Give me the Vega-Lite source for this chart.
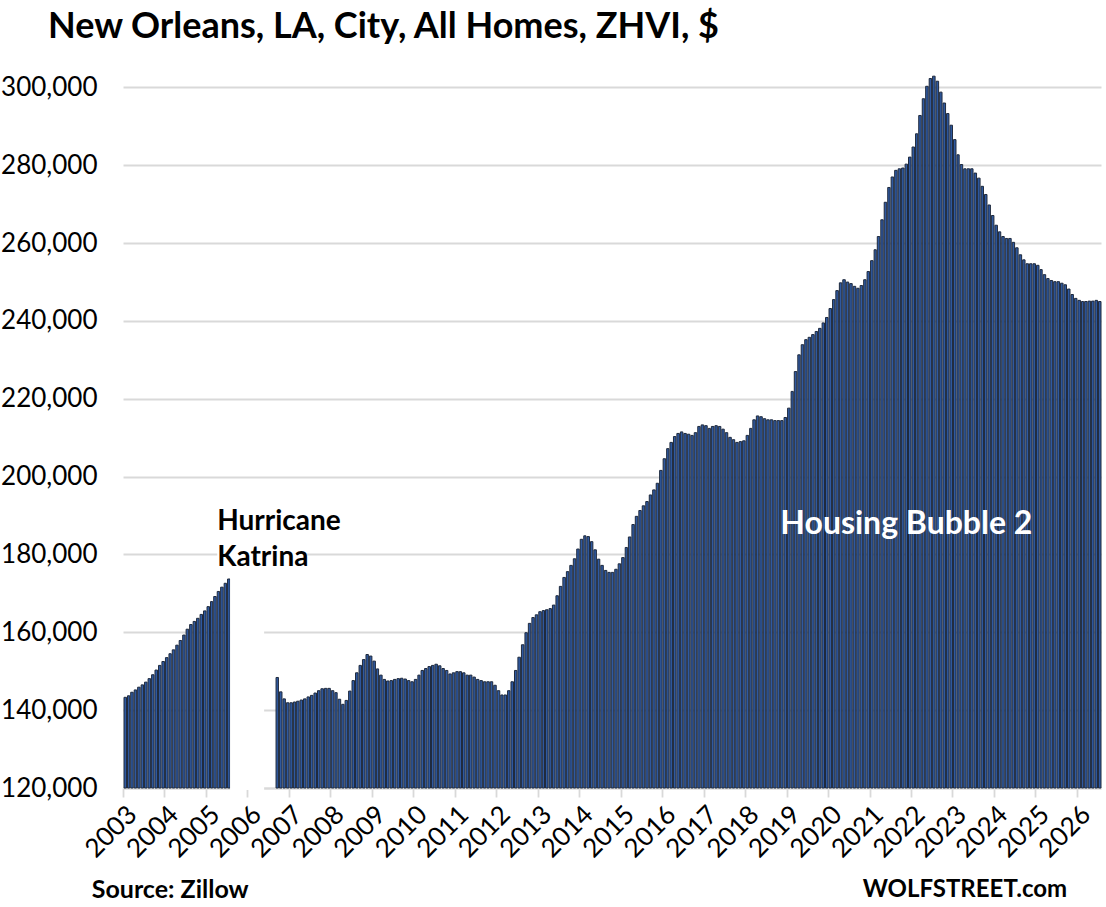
{
  "$schema": "https://vega.github.io/schema/vega-lite/v6.json",
  "autosize": {"type": "none"},
  "width": 978,
  "height": 720,
  "padding": {"left": 123, "top": 68, "right": 5, "bottom": 119},
  "title": {
    "text": "New Orleans, LA, City, All Homes, ZHVI, $",
    "anchor": "start",
    "frame": "group",
    "baseline": "alphabetic",
    "dx": -75,
    "offset": -6,
    "font": "Lato",
    "fontSize": 36,
    "fontWeight": "bold",
    "color": "black"
  },
  "data": {
    "values": [
      {"date": "2003-01", "value": 143300}, {"date": "2003-02", "value": 143700}, {"date": "2003-03", "value": 144600},
      {"date": "2003-04", "value": 145200}, {"date": "2003-05", "value": 145900}, {"date": "2003-06", "value": 146500},
      {"date": "2003-07", "value": 147200}, {"date": "2003-08", "value": 148100}, {"date": "2003-09", "value": 149100},
      {"date": "2003-10", "value": 150300}, {"date": "2003-11", "value": 151500}, {"date": "2003-12", "value": 152500},
      {"date": "2004-01", "value": 153500}, {"date": "2004-02", "value": 154500}, {"date": "2004-03", "value": 155500},
      {"date": "2004-04", "value": 156700}, {"date": "2004-05", "value": 157900}, {"date": "2004-06", "value": 159300},
      {"date": "2004-07", "value": 160800}, {"date": "2004-08", "value": 162000}, {"date": "2004-09", "value": 162800},
      {"date": "2004-10", "value": 163600}, {"date": "2004-11", "value": 164600}, {"date": "2004-12", "value": 165500},
      {"date": "2005-01", "value": 166600}, {"date": "2005-02", "value": 167900}, {"date": "2005-03", "value": 169200},
      {"date": "2005-04", "value": 170500}, {"date": "2005-05", "value": 171600}, {"date": "2005-06", "value": 172600},
      {"date": "2005-07", "value": 173700},
      {"date": "2006-09", "value": 148400}, {"date": "2006-10", "value": 144700}, {"date": "2006-11", "value": 142900},
      {"date": "2006-12", "value": 141900},
      {"date": "2007-01", "value": 141900}, {"date": "2007-02", "value": 142100}, {"date": "2007-03", "value": 142300},
      {"date": "2007-04", "value": 142600}, {"date": "2007-05", "value": 142900}, {"date": "2007-06", "value": 143400},
      {"date": "2007-07", "value": 143800}, {"date": "2007-08", "value": 144400}, {"date": "2007-09", "value": 145000},
      {"date": "2007-10", "value": 145500}, {"date": "2007-11", "value": 145600}, {"date": "2007-12", "value": 145600},
      {"date": "2008-01", "value": 145000}, {"date": "2008-02", "value": 144500}, {"date": "2008-03", "value": 142800},
      {"date": "2008-04", "value": 141500}, {"date": "2008-05", "value": 142500}, {"date": "2008-06", "value": 144900},
      {"date": "2008-07", "value": 147600}, {"date": "2008-08", "value": 149600}, {"date": "2008-09", "value": 151500},
      {"date": "2008-10", "value": 153000}, {"date": "2008-11", "value": 154300}, {"date": "2008-12", "value": 153900},
      {"date": "2009-01", "value": 152600}, {"date": "2009-02", "value": 150600}, {"date": "2009-03", "value": 149000},
      {"date": "2009-04", "value": 147900}, {"date": "2009-05", "value": 147500}, {"date": "2009-06", "value": 147600},
      {"date": "2009-07", "value": 147900}, {"date": "2009-08", "value": 148100}, {"date": "2009-09", "value": 148200},
      {"date": "2009-10", "value": 148000}, {"date": "2009-11", "value": 147600}, {"date": "2009-12", "value": 147300},
      {"date": "2010-01", "value": 147900}, {"date": "2010-02", "value": 149000}, {"date": "2010-03", "value": 150200},
      {"date": "2010-04", "value": 150700}, {"date": "2010-05", "value": 151200}, {"date": "2010-06", "value": 151500},
      {"date": "2010-07", "value": 151800}, {"date": "2010-08", "value": 151400}, {"date": "2010-09", "value": 150700},
      {"date": "2010-10", "value": 150200}, {"date": "2010-11", "value": 149300}, {"date": "2010-12", "value": 149600},
      {"date": "2011-01", "value": 149900}, {"date": "2011-02", "value": 149900}, {"date": "2011-03", "value": 149600},
      {"date": "2011-04", "value": 149000}, {"date": "2011-05", "value": 149000}, {"date": "2011-06", "value": 148500},
      {"date": "2011-07", "value": 147900}, {"date": "2011-08", "value": 147600}, {"date": "2011-09", "value": 147300},
      {"date": "2011-10", "value": 147300}, {"date": "2011-11", "value": 147300}, {"date": "2011-12", "value": 146400},
      {"date": "2012-01", "value": 145000}, {"date": "2012-02", "value": 143900}, {"date": "2012-03", "value": 143900},
      {"date": "2012-04", "value": 145000}, {"date": "2012-05", "value": 147300}, {"date": "2012-06", "value": 150200},
      {"date": "2012-07", "value": 153600}, {"date": "2012-08", "value": 156800}, {"date": "2012-09", "value": 159900},
      {"date": "2012-10", "value": 162300}, {"date": "2012-11", "value": 163800}, {"date": "2012-12", "value": 164500},
      {"date": "2013-01", "value": 165300}, {"date": "2013-02", "value": 165600}, {"date": "2013-03", "value": 165800},
      {"date": "2013-04", "value": 166100}, {"date": "2013-05", "value": 167000}, {"date": "2013-06", "value": 169400},
      {"date": "2013-07", "value": 171800}, {"date": "2013-08", "value": 174100}, {"date": "2013-09", "value": 175600},
      {"date": "2013-10", "value": 177200}, {"date": "2013-11", "value": 178900}, {"date": "2013-12", "value": 181400},
      {"date": "2014-01", "value": 183900}, {"date": "2014-02", "value": 184800}, {"date": "2014-03", "value": 184600},
      {"date": "2014-04", "value": 183300}, {"date": "2014-05", "value": 181200}, {"date": "2014-06", "value": 178800},
      {"date": "2014-07", "value": 177200}, {"date": "2014-08", "value": 175900}, {"date": "2014-09", "value": 175400},
      {"date": "2014-10", "value": 175400}, {"date": "2014-11", "value": 176200}, {"date": "2014-12", "value": 177600},
      {"date": "2015-01", "value": 179200}, {"date": "2015-02", "value": 181800}, {"date": "2015-03", "value": 184500},
      {"date": "2015-04", "value": 187700}, {"date": "2015-05", "value": 189800}, {"date": "2015-06", "value": 191300},
      {"date": "2015-07", "value": 192500}, {"date": "2015-08", "value": 193600}, {"date": "2015-09", "value": 195300},
      {"date": "2015-10", "value": 196600}, {"date": "2015-11", "value": 198300}, {"date": "2015-12", "value": 201600},
      {"date": "2016-01", "value": 204600}, {"date": "2016-02", "value": 207200}, {"date": "2016-03", "value": 208800},
      {"date": "2016-04", "value": 210300}, {"date": "2016-05", "value": 211100}, {"date": "2016-06", "value": 211500},
      {"date": "2016-07", "value": 211100}, {"date": "2016-08", "value": 210900}, {"date": "2016-09", "value": 210600},
      {"date": "2016-10", "value": 211300}, {"date": "2016-11", "value": 212900}, {"date": "2016-12", "value": 213300},
      {"date": "2017-01", "value": 213100}, {"date": "2017-02", "value": 212400}, {"date": "2017-03", "value": 212900},
      {"date": "2017-04", "value": 213100}, {"date": "2017-05", "value": 212900}, {"date": "2017-06", "value": 212200},
      {"date": "2017-07", "value": 211300}, {"date": "2017-08", "value": 210100}, {"date": "2017-09", "value": 209500},
      {"date": "2017-10", "value": 208800}, {"date": "2017-11", "value": 209000}, {"date": "2017-12", "value": 209200},
      {"date": "2018-01", "value": 210600}, {"date": "2018-02", "value": 212400}, {"date": "2018-03", "value": 214600},
      {"date": "2018-04", "value": 215600}, {"date": "2018-05", "value": 215400}, {"date": "2018-06", "value": 214900},
      {"date": "2018-07", "value": 214600}, {"date": "2018-08", "value": 214600}, {"date": "2018-09", "value": 214400},
      {"date": "2018-10", "value": 214400}, {"date": "2018-11", "value": 214400}, {"date": "2018-12", "value": 215200},
      {"date": "2019-01", "value": 217600}, {"date": "2019-02", "value": 221900}, {"date": "2019-03", "value": 227000},
      {"date": "2019-04", "value": 231300}, {"date": "2019-05", "value": 233900}, {"date": "2019-06", "value": 235200},
      {"date": "2019-07", "value": 235800}, {"date": "2019-08", "value": 236500}, {"date": "2019-09", "value": 237300},
      {"date": "2019-10", "value": 238100}, {"date": "2019-11", "value": 239500}, {"date": "2019-12", "value": 240900},
      {"date": "2020-01", "value": 243200}, {"date": "2020-02", "value": 245500}, {"date": "2020-03", "value": 247800},
      {"date": "2020-04", "value": 249800}, {"date": "2020-05", "value": 250600}, {"date": "2020-06", "value": 250000},
      {"date": "2020-07", "value": 249600}, {"date": "2020-08", "value": 248900}, {"date": "2020-09", "value": 248400},
      {"date": "2020-10", "value": 249100}, {"date": "2020-11", "value": 250600}, {"date": "2020-12", "value": 252700},
      {"date": "2021-01", "value": 255500}, {"date": "2021-02", "value": 258300}, {"date": "2021-03", "value": 261700},
      {"date": "2021-04", "value": 266000}, {"date": "2021-05", "value": 270500}, {"date": "2021-06", "value": 274300},
      {"date": "2021-07", "value": 277000}, {"date": "2021-08", "value": 278700}, {"date": "2021-09", "value": 279100},
      {"date": "2021-10", "value": 279300}, {"date": "2021-11", "value": 280300}, {"date": "2021-12", "value": 282100},
      {"date": "2022-01", "value": 284700}, {"date": "2022-02", "value": 288100}, {"date": "2022-03", "value": 292800},
      {"date": "2022-04", "value": 297100}, {"date": "2022-05", "value": 300300}, {"date": "2022-06", "value": 302300},
      {"date": "2022-07", "value": 302900}, {"date": "2022-08", "value": 301600}, {"date": "2022-09", "value": 298800},
      {"date": "2022-10", "value": 296000}, {"date": "2022-11", "value": 293300}, {"date": "2022-12", "value": 290300},
      {"date": "2023-01", "value": 286600}, {"date": "2023-02", "value": 282700}, {"date": "2023-03", "value": 280200},
      {"date": "2023-04", "value": 279100}, {"date": "2023-05", "value": 279100}, {"date": "2023-06", "value": 279100},
      {"date": "2023-07", "value": 278000}, {"date": "2023-08", "value": 276700}, {"date": "2023-09", "value": 274600},
      {"date": "2023-10", "value": 272500}, {"date": "2023-11", "value": 269800}, {"date": "2023-12", "value": 267100},
      {"date": "2024-01", "value": 264600}, {"date": "2024-02", "value": 262900}, {"date": "2024-03", "value": 261700},
      {"date": "2024-04", "value": 261200}, {"date": "2024-05", "value": 261200}, {"date": "2024-06", "value": 260200},
      {"date": "2024-07", "value": 258800}, {"date": "2024-08", "value": 257000}, {"date": "2024-09", "value": 255700},
      {"date": "2024-10", "value": 254700}, {"date": "2024-11", "value": 254700}, {"date": "2024-12", "value": 254700},
      {"date": "2025-01", "value": 254300}, {"date": "2025-02", "value": 253200}, {"date": "2025-03", "value": 251900},
      {"date": "2025-04", "value": 250900}, {"date": "2025-05", "value": 250400}, {"date": "2025-06", "value": 250100},
      {"date": "2025-07", "value": 250100}, {"date": "2025-08", "value": 249700}, {"date": "2025-09", "value": 249300},
      {"date": "2025-10", "value": 248200}, {"date": "2025-11", "value": 246800}, {"date": "2025-12", "value": 245800},
      {"date": "2026-01", "value": 245300}, {"date": "2026-02", "value": 245000}, {"date": "2026-03", "value": 245000},
      {"date": "2026-04", "value": 245100}, {"date": "2026-05", "value": 245100}, {"date": "2026-06", "value": 245300},
      {"date": "2026-07", "value": 245000}
    ]
  },
  "layer": [
    {
      "mark": {"type": "bar", "fill": "#2f59a0", "stroke": "#1f2a3d", "strokeWidth": 1},
      "encoding": {
        "x": {
          "field": "date",
          "timeUnit": "utcyearmonth",
          "type": "temporal",
          "scale": {
            "domain": [
              {"year": 2003, "month": 1, "date": 1, "utc": true},
              {"year": 2026, "month": 8, "date": 1, "utc": true}
            ]
          },
          "axis": {
            "title": null,
            "format": "%Y",
            "tickCount": {"interval": "year"},
            "labelAngle": -45,
            "labelFont": "Lato",
            "labelFontSize": 26,
            "labelColor": "black",
            "labelPadding": 4,
            "labelFlush": false,
            "labelOverlap": false,
            "labelBound": false,
            "grid": false,
            "domainColor": "#d9d9d9",
            "domainWidth": 1.8,
            "tickColor": "#d9d9d9",
            "tickWidth": 1.8,
            "tickSize": 9
          }
        },
        "y": {
          "field": "value",
          "type": "quantitative",
          "scale": {"domain": [120000, 305000], "nice": false, "zero": false},
          "axis": {
            "title": null,
            "values": [120000, 140000, 160000, 180000, 200000, 220000, 240000, 260000, 280000, 300000],
            "format": ",.0f",
            "labelFont": "Lato",
            "labelFontSize": 26,
            "labelColor": "black",
            "labelPadding": 26,
            "domain": false,
            "ticks": false,
            "grid": true,
            "gridColor": "#d9d9d9",
            "gridWidth": 1.8
          }
        },
        "y2": {"datum": 120000}
      }
    },
    {
      "data": {"values": [{}]},
      "mark": {"type": "rect", "color": "white"},
      "encoding": {
        "x": {"datum": {"year": 2005, "month": 8, "date": 1, "utc": true}},
        "x2": {"datum": {"year": 2006, "month": 5, "date": 28, "utc": true}},
        "y": {"datum": 119500},
        "y2": {"datum": 177000}
      }
    },
    {
      "data": {"values": [{}]},
      "mark": {"type": "rect", "color": "white"},
      "encoding": {
        "x": {"datum": {"year": 2005, "month": 4, "date": 10, "utc": true}},
        "x2": {"datum": {"year": 2007, "month": 5, "date": 25, "utc": true}},
        "y": {"datum": 176500},
        "y2": {"datum": 183500}
      }
    },
    {
      "data": {"values": [{}]},
      "mark": {
        "type": "text",
        "text": ["Hurricane", "Katrina"],
        "align": "left",
        "baseline": "alphabetic",
        "lineHeight": 36,
        "font": "Lato",
        "fontSize": 28,
        "fontWeight": "bold",
        "color": "black"
      },
      "encoding": {
        "x": {"datum": {"year": 2005, "month": 4, "date": 10, "utc": true}},
        "y": {"datum": 186300}
      }
    },
    {
      "data": {"values": [{}]},
      "mark": {
        "type": "text",
        "text": "Housing Bubble 2",
        "align": "left",
        "baseline": "alphabetic",
        "font": "Lato",
        "fontSize": 32,
        "fontWeight": "bold",
        "color": "white"
      },
      "encoding": {
        "x": {"datum": {"year": 2018, "month": 11, "date": 7, "utc": true}},
        "y": {"datum": 185200}
      }
    },
    {
      "data": {"values": [{}]},
      "mark": {
        "type": "text",
        "text": "Source: Zillow",
        "align": "left",
        "baseline": "alphabetic",
        "font": "Lato",
        "fontSize": 25,
        "fontWeight": "bold",
        "color": "black"
      },
      "encoding": {
        "x": {"datum": {"year": 2002, "month": 4, "date": 1, "utc": true}},
        "y": {"datum": 91800}
      }
    },
    {
      "data": {"values": [{}]},
      "mark": {
        "type": "text",
        "text": "WOLFSTREET.com",
        "align": "right",
        "baseline": "alphabetic",
        "font": "Lato",
        "fontSize": 24,
        "fontWeight": "bold",
        "color": "black"
      },
      "encoding": {
        "x": {"datum": {"year": 2025, "month": 10, "date": 7, "utc": true}},
        "y": {"datum": 91900}
      }
    }
  ],
  "config": {
    "view": {"stroke": null},
    "font": "Lato"
  }
}
